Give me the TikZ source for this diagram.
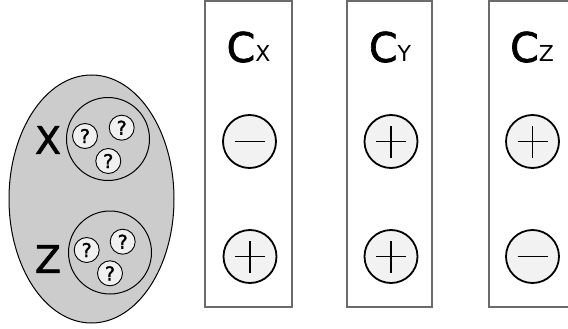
\documentclass[tikz,border=0pt]{standalone}
\usepackage{fontspec}
\setmainfont{DejaVu Sans}
\newfontfamily\semibold[FakeBold=1.6]{DejaVu Sans}
\usetikzlibrary{shapes.geometric}
\begin{document}
\begin{tikzpicture}[x=1pt,y=-1pt,
  panel/.style={draw=black!58, line width=2.6pt},
  sign/.style={circle, draw=black, line width=1.8pt, fill=black!5, minimum size=53pt, inner sep=0pt},
  qcirc/.style={circle, draw=black, line width=0.9pt, fill=black!6, minimum size=25pt, inner sep=0pt, font=\fontsize{19}{19}\selectfont\semibold},
  group/.style={circle, draw=black, line width=1pt, minimum size=83pt, inner sep=0pt},
  biglabel/.style={font=\fontsize{38}{38}\selectfont\semibold, inner sep=0pt},
  title/.style={inner sep=0pt, anchor=base},
  bar/.style={line width=1.8pt}
]
\useasboundingbox (0,0) rectangle (568,329);
% population ellipse
\node[ellipse, draw=black, line width=1pt, fill=black!20, minimum width=165pt, minimum height=248pt, inner sep=0pt] (pop) at (91.5,199) {};
\node[group] (gx) at (108,139) {};
\node[group] (gz) at (110,252.5) {};
\node[biglabel] (lx) at (48,140) {X};
\node[biglabel] (lz) at (48,259) {Z};
\node[qcirc] (qx1) at (85,136) {?};
\node[qcirc] (qx2) at (121.7,127.7) {?};
\node[qcirc] (qx3) at (108.3,161) {?};
\node[qcirc] (qz1) at (86.7,250) {?};
\node[qcirc] (qz2) at (122.7,241.7) {?};
\node[qcirc] (qz3) at (110,273.3) {?};
% panels
\draw[panel] (205,0.5) rectangle (292,307);
\draw[panel] (347,0.5) rectangle (432,307);
\draw[panel] (489,0.5) rectangle (580,307);
% titles
\node[title] (cx) at (248.5,62) {\fontsize{41}{41}\semibold C\fontsize{22}{22}\normalfont X};
\node[title] (cy) at (390,62) {\fontsize{41}{41}\semibold C\fontsize{22}{22}\normalfont Y};
\node[title] (cz) at (532,62) {\fontsize{41}{41}\semibold C\fontsize{22}{22}\normalfont Z};
% signs
\node[sign] (s1a) at (249.5,141.5) {};
\node[sign] (s1b) at (250,256.5) {};
\node[sign] (s2a) at (391,141.5) {};
\node[sign] (s2b) at (391,256.5) {};
\node[sign] (s3a) at (532.5,141.5) {};
\node[sign] (s3b) at (532.5,256.5) {};
% minus
\draw[bar] ([xshift=-15pt]s1a.center) -- ([xshift=15pt]s1a.center);
\draw[bar] ([xshift=-15pt]s3b.center) -- ([xshift=15pt]s3b.center);
% plus
\foreach \n in {s1b,s2a,s2b,s3a}{
  \draw[bar] ([xshift=-15pt]\n.center) -- ([xshift=15pt]\n.center);
  \draw[bar] ([yshift=-16pt]\n.center) -- ([yshift=16pt]\n.center);
}
\end{tikzpicture}
\end{document}
